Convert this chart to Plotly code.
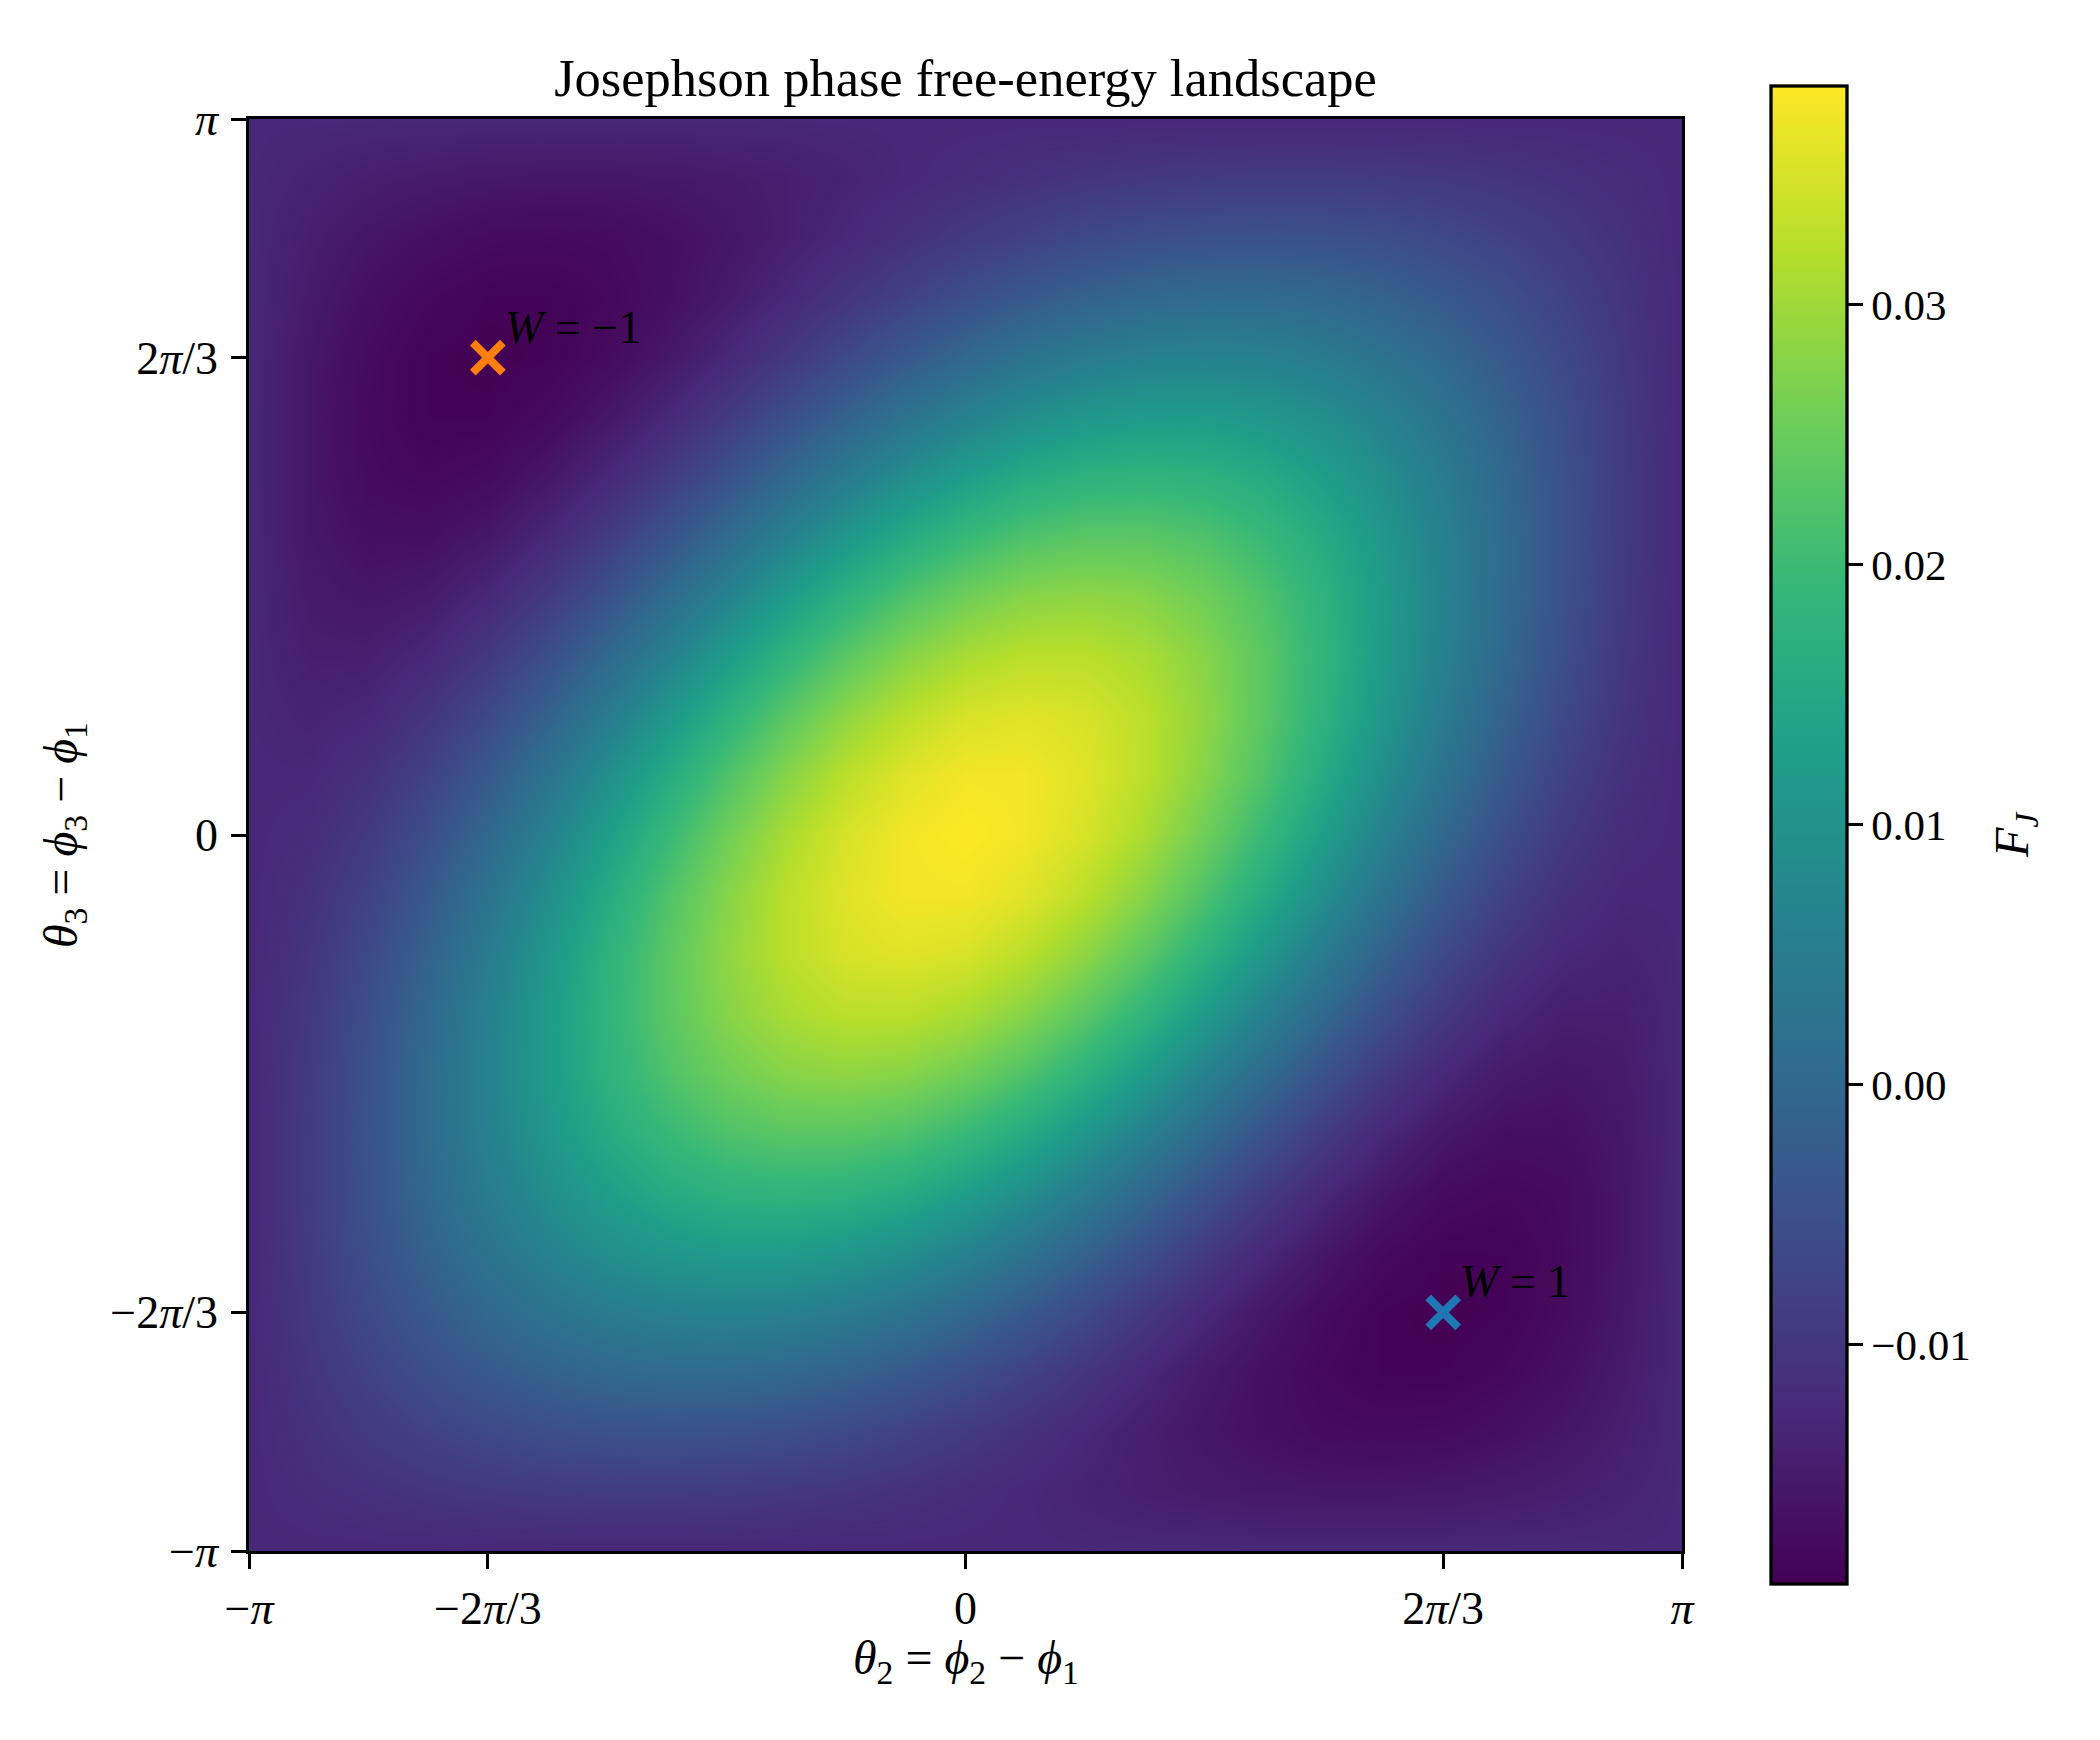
import math
import plotly.graph_objects as go

PI = math.pi

# Grid of phase differences (theta2 along x, theta3 along y), steps of pi/12
theta2 = [k * PI / 12 for k in range(-12, 13)]
theta3 = [k * PI / 12 for k in range(-12, 13)]

# Free energy F_J; rows = theta3 from -pi to pi, cols = theta2 from -pi to pi
F_J = [
    [-0.0128] * 25,
    [-0.0128, -0.0119, -0.0111, -0.0103, -0.0097, -0.0093, -0.0091, -0.0091, -0.0093, -0.0097, -0.0103, -0.0111, -0.0119, -0.0128, -0.0136, -0.0144, -0.0150, -0.0155, -0.0157, -0.0157, -0.0155, -0.0150, -0.0144, -0.0136, -0.0128],
    [-0.0128, -0.0111, -0.0094, -0.0078, -0.0064, -0.0053, -0.0047, -0.0045, -0.0047, -0.0053, -0.0064, -0.0078, -0.0094, -0.0111, -0.0128, -0.0144, -0.0158, -0.0168, -0.0175, -0.0177, -0.0175, -0.0168, -0.0158, -0.0144, -0.0128],
    [-0.0128, -0.0103, -0.0078, -0.0053, -0.0031, -0.0013, 0.0000, 0.0007, 0.0007, 0.0000, -0.0013, -0.0031, -0.0053, -0.0078, -0.0103, -0.0128, -0.0150, -0.0168, -0.0181, -0.0188, -0.0188, -0.0181, -0.0168, -0.0150, -0.0128],
    [-0.0128, -0.0097, -0.0064, -0.0031, 0.0000, 0.0027, 0.0047, 0.0060, 0.0064, 0.0060, 0.0047, 0.0027, 0.0000, -0.0031, -0.0064, -0.0097, -0.0128, -0.0155, -0.0175, -0.0188, -0.0192, -0.0188, -0.0175, -0.0155, -0.0128],
    [-0.0128, -0.0093, -0.0053, -0.0013, 0.0027, 0.0062, 0.0091, 0.0111, 0.0121, 0.0121, 0.0111, 0.0091, 0.0062, 0.0027, -0.0013, -0.0053, -0.0093, -0.0128, -0.0157, -0.0177, -0.0188, -0.0188, -0.0177, -0.0157, -0.0128],
    [-0.0128, -0.0091, -0.0047, 0.0000, 0.0047, 0.0091, 0.0128, 0.0157, 0.0175, 0.0181, 0.0175, 0.0157, 0.0128, 0.0091, 0.0047, 0.0000, -0.0047, -0.0091, -0.0128, -0.0157, -0.0175, -0.0181, -0.0175, -0.0157, -0.0128],
    [-0.0128, -0.0091, -0.0045, 0.0007, 0.0060, 0.0111, 0.0157, 0.0194, 0.0221, 0.0234, 0.0234, 0.0221, 0.0194, 0.0157, 0.0111, 0.0060, 0.0007, -0.0045, -0.0091, -0.0128, -0.0155, -0.0168, -0.0168, -0.0155, -0.0128],
    [-0.0128, -0.0093, -0.0047, 0.0007, 0.0064, 0.0121, 0.0175, 0.0221, 0.0256, 0.0278, 0.0286, 0.0278, 0.0256, 0.0221, 0.0175, 0.0121, 0.0064, 0.0007, -0.0047, -0.0093, -0.0128, -0.0150, -0.0158, -0.0150, -0.0128],
    [-0.0128, -0.0097, -0.0053, 0.0000, 0.0060, 0.0121, 0.0181, 0.0234, 0.0278, 0.0309, 0.0325, 0.0325, 0.0309, 0.0278, 0.0234, 0.0181, 0.0121, 0.0060, 0.0000, -0.0053, -0.0097, -0.0128, -0.0144, -0.0144, -0.0128],
    [-0.0128, -0.0103, -0.0064, -0.0013, 0.0047, 0.0111, 0.0175, 0.0234, 0.0286, 0.0325, 0.0350, 0.0358, 0.0350, 0.0325, 0.0286, 0.0234, 0.0175, 0.0111, 0.0047, -0.0013, -0.0064, -0.0103, -0.0128, -0.0136, -0.0128],
    [-0.0128, -0.0111, -0.0078, -0.0031, 0.0027, 0.0091, 0.0157, 0.0221, 0.0278, 0.0325, 0.0358, 0.0375, 0.0375, 0.0358, 0.0325, 0.0278, 0.0221, 0.0157, 0.0091, 0.0027, -0.0031, -0.0078, -0.0111, -0.0128, -0.0128],
    [-0.0128, -0.0119, -0.0094, -0.0053, 0.0000, 0.0062, 0.0128, 0.0194, 0.0256, 0.0309, 0.0350, 0.0375, 0.0384, 0.0375, 0.0350, 0.0309, 0.0256, 0.0194, 0.0128, 0.0062, 0.0000, -0.0053, -0.0094, -0.0119, -0.0128],
    [-0.0128, -0.0128, -0.0111, -0.0078, -0.0031, 0.0027, 0.0091, 0.0157, 0.0221, 0.0278, 0.0325, 0.0358, 0.0375, 0.0375, 0.0358, 0.0325, 0.0278, 0.0221, 0.0157, 0.0091, 0.0027, -0.0031, -0.0078, -0.0111, -0.0128],
    [-0.0128, -0.0136, -0.0128, -0.0103, -0.0064, -0.0013, 0.0047, 0.0111, 0.0175, 0.0234, 0.0286, 0.0325, 0.0350, 0.0358, 0.0350, 0.0325, 0.0286, 0.0234, 0.0175, 0.0111, 0.0047, -0.0013, -0.0064, -0.0103, -0.0128],
    [-0.0128, -0.0144, -0.0144, -0.0128, -0.0097, -0.0053, 0.0000, 0.0060, 0.0121, 0.0181, 0.0234, 0.0278, 0.0309, 0.0325, 0.0325, 0.0309, 0.0278, 0.0234, 0.0181, 0.0121, 0.0060, 0.0000, -0.0053, -0.0097, -0.0128],
    [-0.0128, -0.0150, -0.0158, -0.0150, -0.0128, -0.0093, -0.0047, 0.0007, 0.0064, 0.0121, 0.0175, 0.0221, 0.0256, 0.0278, 0.0286, 0.0278, 0.0256, 0.0221, 0.0175, 0.0121, 0.0064, 0.0007, -0.0047, -0.0093, -0.0128],
    [-0.0128, -0.0155, -0.0168, -0.0168, -0.0155, -0.0128, -0.0091, -0.0045, 0.0007, 0.0060, 0.0111, 0.0157, 0.0194, 0.0221, 0.0234, 0.0234, 0.0221, 0.0194, 0.0157, 0.0111, 0.0060, 0.0007, -0.0045, -0.0091, -0.0128],
    [-0.0128, -0.0157, -0.0175, -0.0181, -0.0175, -0.0157, -0.0128, -0.0091, -0.0047, 0.0000, 0.0047, 0.0091, 0.0128, 0.0157, 0.0175, 0.0181, 0.0175, 0.0157, 0.0128, 0.0091, 0.0047, 0.0000, -0.0047, -0.0091, -0.0128],
    [-0.0128, -0.0157, -0.0177, -0.0188, -0.0188, -0.0177, -0.0157, -0.0128, -0.0093, -0.0053, -0.0013, 0.0027, 0.0062, 0.0091, 0.0111, 0.0121, 0.0121, 0.0111, 0.0091, 0.0062, 0.0027, -0.0013, -0.0053, -0.0093, -0.0128],
    [-0.0128, -0.0155, -0.0175, -0.0188, -0.0192, -0.0188, -0.0175, -0.0155, -0.0128, -0.0097, -0.0064, -0.0031, 0.0000, 0.0027, 0.0047, 0.0060, 0.0064, 0.0060, 0.0047, 0.0027, 0.0000, -0.0031, -0.0064, -0.0097, -0.0128],
    [-0.0128, -0.0150, -0.0168, -0.0181, -0.0188, -0.0188, -0.0181, -0.0168, -0.0150, -0.0128, -0.0103, -0.0078, -0.0053, -0.0031, -0.0013, 0.0000, 0.0007, 0.0007, 0.0000, -0.0013, -0.0031, -0.0053, -0.0078, -0.0103, -0.0128],
    [-0.0128, -0.0144, -0.0158, -0.0168, -0.0175, -0.0177, -0.0175, -0.0168, -0.0158, -0.0144, -0.0128, -0.0111, -0.0094, -0.0078, -0.0064, -0.0053, -0.0047, -0.0045, -0.0047, -0.0053, -0.0064, -0.0078, -0.0094, -0.0111, -0.0128],
    [-0.0128, -0.0136, -0.0144, -0.0150, -0.0155, -0.0157, -0.0157, -0.0155, -0.0150, -0.0144, -0.0136, -0.0128, -0.0119, -0.0111, -0.0103, -0.0097, -0.0093, -0.0091, -0.0091, -0.0093, -0.0097, -0.0103, -0.0111, -0.0119, -0.0128],
    [-0.0128] * 25,
]

# Axis ticks
tick_vals = [-PI, -2 * PI / 3, 0, 2 * PI / 3, PI]
tick_text = ["−<i>π</i>", "−2<i>π</i>/3", "0", "2<i>π</i>/3", "<i>π</i>"]

cbar_vals = [-0.01, 0.00, 0.01, 0.02, 0.03]
cbar_text = ["−0.01", "0.00", "0.01", "0.02", "0.03"]

# Winding-number minima
w_theta2 = [-2 * PI / 3, 2 * PI / 3]
w_theta3 = [2 * PI / 3, -2 * PI / 3]
w_labels = ["<i>W</i> = −1", "<i>W</i> = 1"]
w_colors = ["#ff7f0e", "#1f77b4"]

FONT = "Liberation Serif"
W, H = 2100, 1740
L, R, T, B = 249, 1682, 119, 1551
pw, ph = R - L, B - T

fig = go.Figure()
fig.add_trace(go.Heatmap(
    x=theta2, y=theta3, z=F_J,
    colorscale="Viridis", zsmooth="best",
    zmin=min(min(r) for r in F_J), zmax=max(max(r) for r in F_J),
    hoverinfo="skip",
    colorbar=dict(
        thicknessmode="pixels", thickness=76,
        lenmode="pixels", len=1498,
        x=(1771 - L) / pw, xanchor="left", xpad=0,
        y=0.5, yanchor="middle", ypad=0,
        outlinewidth=3.3, outlinecolor="black",
        ticks="outside", ticklen=14.6, tickwidth=3.3, tickcolor="black",
        tickvals=cbar_vals, ticktext=cbar_text,
        tickfont=dict(family=FONT, size=43, color="black"),
    ),
))

for xv, yv, col in zip(w_theta2, w_theta3, w_colors):
    fig.add_trace(go.Scatter(
        x=[xv], y=[yv], mode="markers", showlegend=False, hoverinfo="skip",
        marker=dict(symbol="x-thin", size=30, color=col, line=dict(width=8, color=col)),
    ))

for xv, yv, lab in zip(w_theta2, w_theta3, w_labels):
    fig.add_annotation(x=xv, y=yv, text=lab, showarrow=False,
                       xanchor="left", yanchor="bottom", xshift=15, yshift=3,
                       font=dict(family=FONT, size=46, color="black"))

axis_common = dict(
    range=[-PI, PI], tickvals=tick_vals, ticktext=tick_text,
    ticks="outside", ticklen=14.6, tickwidth=3.3, tickcolor="black",
    showline=True, linewidth=3.3, linecolor="black", mirror=True,
    showgrid=False, zeroline=False,
    tickfont=dict(family=FONT, size=46, color="black"),
)
fig.update_xaxes(**axis_common, ticklabelstandoff=0)
fig.update_yaxes(**axis_common, ticklabelstandoff=4)

fig.add_annotation(xref="paper", yref="paper", x=0.5, y=(B - 1661) / ph,
                   text="<i>θ</i><sub>2</sub> = <i>ϕ</i><sub>2</sub> − <i>ϕ</i><sub>1</sub>",
                   showarrow=False, xanchor="center", yanchor="middle",
                   font=dict(family=FONT, size=48, color="black"))
fig.add_annotation(xref="paper", yref="paper", x=(64 - L) / pw, y=0.5,
                   text="<i>θ</i><sub>3</sub> = <i>ϕ</i><sub>3</sub> − <i>ϕ</i><sub>1</sub>",
                   showarrow=False, xanchor="center", yanchor="middle", textangle=-90,
                   font=dict(family=FONT, size=48, color="black"))
fig.add_annotation(xref="paper", yref="paper", x=(2015 - L) / pw, y=0.5,
                   text="<i>F</i><sub><i>J</i></sub>",
                   showarrow=False, xanchor="center", yanchor="middle", textangle=-90,
                   font=dict(family=FONT, size=48, color="black"))

fig.update_layout(
    width=W, height=H,
    margin=dict(l=L, r=W - R, t=T, b=H - B, pad=0),
    paper_bgcolor="white", plot_bgcolor="white",
    title=dict(text="Josephson phase free-energy landscape", x=0.5, xref="paper",
               y=1, yref="paper", yanchor="bottom", pad=dict(b=23),
               font=dict(family=FONT, size=52.5, color="black")),
    showlegend=False,
)

fig.write_html("out.html")
